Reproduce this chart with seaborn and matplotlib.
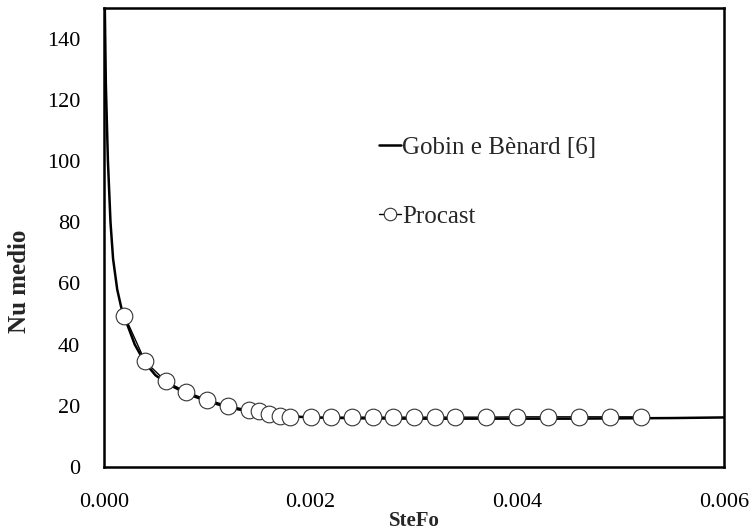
import matplotlib
matplotlib.use("Agg")
import matplotlib.pyplot as plt
import seaborn as sns
import numpy as np

# Gobin e Bènard [6] reference curve
gobin_x = [0.00001, 0.00002, 0.00004, 0.000065, 0.00009, 0.00013, 0.00017, 0.0002,
           0.0003, 0.0004, 0.0005, 0.0006, 0.0008, 0.001, 0.0012, 0.0014, 0.0016,
           0.0018, 0.002, 0.0025, 0.003, 0.0035, 0.004, 0.0045, 0.005, 0.0055, 0.006]
gobin_y = [150, 125, 100, 80, 68, 58, 52, 49,
           40, 34, 30, 27.5, 24, 21.5, 19.5, 18.2, 17.2,
           16.6, 16.2, 15.9, 15.8, 15.8, 15.8, 15.8, 15.9, 16.0, 16.2]

# Procast results
procast_x = [0.0002, 0.0004, 0.0006, 0.0008, 0.001, 0.0012, 0.0014, 0.0015, 0.0016,
             0.0017, 0.0018, 0.002, 0.0022, 0.0024, 0.0026, 0.0028, 0.003, 0.0032,
             0.0034, 0.0037, 0.004, 0.0043, 0.0046, 0.0049, 0.0052]
procast_y = [49.5, 34.5, 28, 24.5, 22, 20, 18.6, 18.2, 17.4,
             16.6, 16.3, 16.2, 16.2, 16.3, 16.3, 16.3, 16.3, 16.3,
             16.3, 16.3, 16.4, 16.4, 16.4, 16.4, 16.4]

xticks = [0.000, 0.001, 0.002, 0.003, 0.004, 0.005, 0.006]
xticklabels = ["0.000", "", "0.002", "", "0.004", "", "0.006"]
yticks = [0, 20, 40, 60, 80, 100, 120, 140]

sns.set_style("white")
plt.rcParams["font.family"] = ["Liberation Serif", "DejaVu Serif"]

fig = plt.figure(figsize=(7.52, 5.31), dpi=100)
ax = fig.add_axes([0.138, 0.1205, 0.825, 0.8645])

sns.lineplot(x=gobin_x, y=gobin_y, ax=ax, color="black", linewidth=1.8,
             label="Gobin e Bènard [6]", sort=False)
sns.lineplot(x=procast_x, y=procast_y, ax=ax, color="black", linewidth=1.0,
             marker="o", markersize=12, markerfacecolor="white",
             markeredgecolor="#333333", markeredgewidth=0.8,
             label="Procast", sort=False)

ax.set_xlim(0, 0.006)
ax.set_ylim(0, 150)
ax.set_xticks(xticks)
ax.set_xticklabels(xticklabels)
ax.set_yticks(yticks)
ax.tick_params(direction="in", length=5, width=1, labelsize=16, colors="black")
ax.tick_params(axis="y", pad=17)
ax.tick_params(axis="x", pad=19)

for s in ax.spines.values():
    s.set_visible(True)
    s.set_color("black")
    s.set_linewidth(1.8)

ax.set_xlabel("SteFo", fontsize=15, fontweight="bold", labelpad=-1)
ax.set_ylabel("Nu medio", fontsize=18, fontweight="bold")
ax.yaxis.set_label_coords(-0.117, 0.405)

leg = ax.legend(loc="upper left", bbox_to_anchor=(0.427, 0.742), frameon=False,
                fontsize=18, handlelength=0.9, handletextpad=0.05,
                labelspacing=1.85, borderaxespad=0)
for line in leg.get_lines():
    line.set_markersize(9)

fig.savefig("out.png", dpi=100)
